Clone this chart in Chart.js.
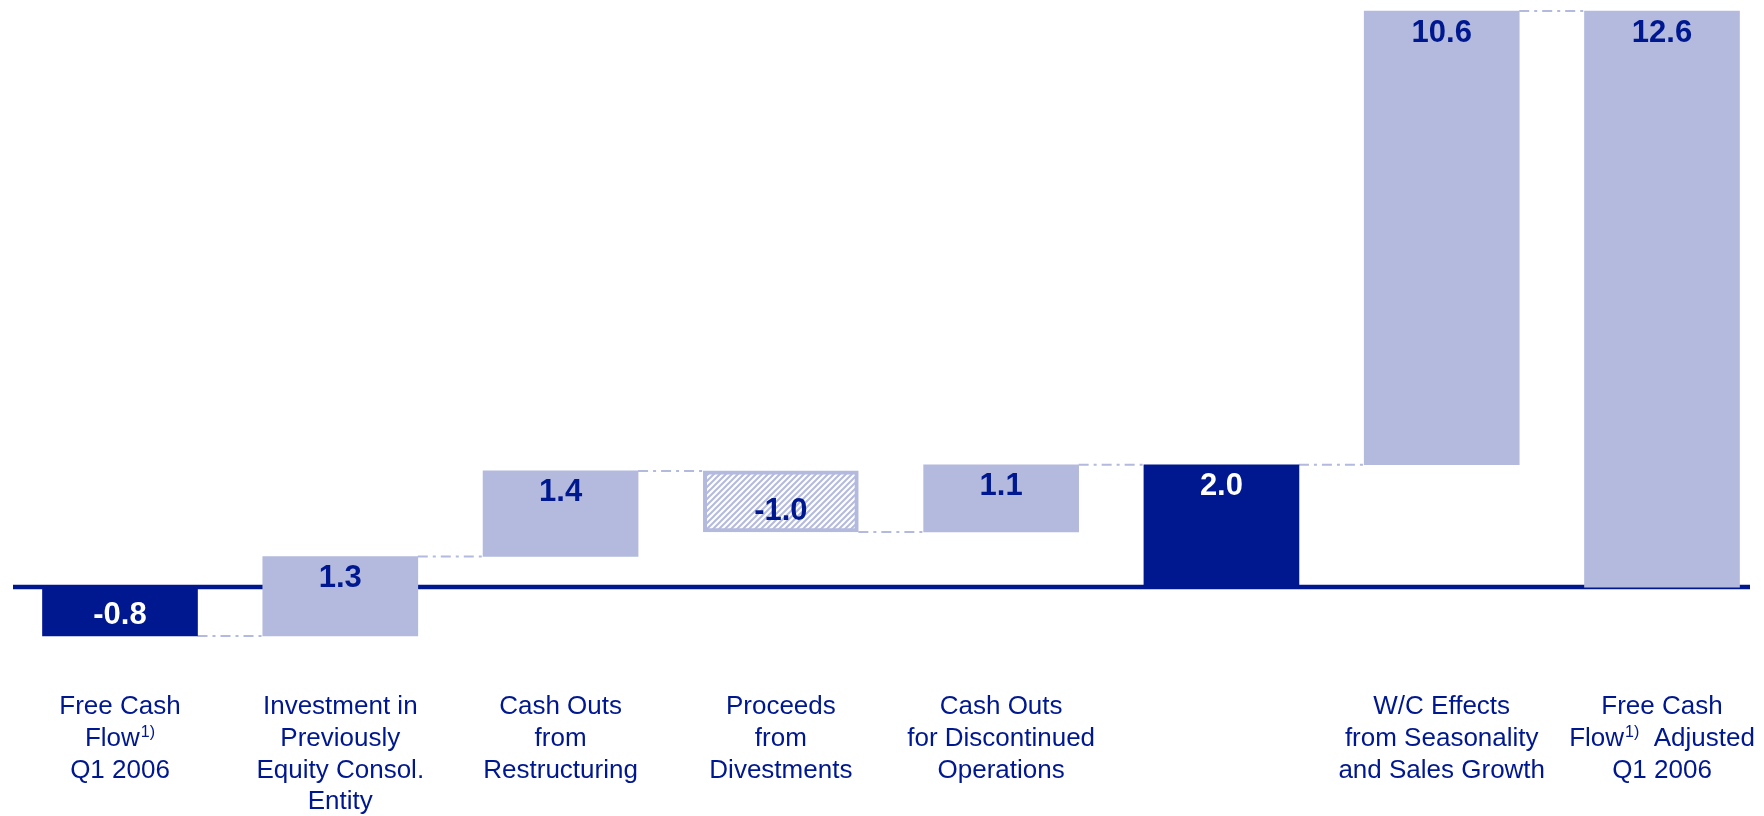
<!DOCTYPE html>
<html>
<head>
<meta charset="utf-8">
<script src="https://cdn.jsdelivr.net/npm/chart.js@4.4.1/dist/chart.umd.min.js"></script>
<style>
  html, body { margin: 0; padding: 0; background: #ffffff; }
  #wrap { width: 1764px; height: 816px; position: relative; }
</style>
</head>
<body>
<div id="wrap"><canvas id="c"></canvas></div>
<script>
// ---- data ----
const categories = [
  ["Free Cash", "Flow¹⁾", "Q1 2006"],
  ["Investment in", "Previously", "Equity Consol.", "Entity"],
  ["Cash Outs", "from", "Restructuring"],
  ["Proceeds", "from", "Divestments"],
  ["Cash Outs", "for Discontinued", "Operations"],
  [""],
  ["W/C Effects", "from Seasonality", "and Sales Growth"],
  ["Free Cash", "Flow¹⁾  Adjusted", "Q1 2006"]
];
const changes = [-0.8, 1.3, 1.4, -1.0, 1.1, 2.0, 10.6, 12.6];
const barKinds = ["total", "step", "step", "step", "step", "total", "step", "total"];
const valueLabels = ["-0.8", "1.3", "1.4", "-1.0", "1.1", "2.0", "10.6", "12.6"];
const axisMin = -0.8;
const axisMax = 12.6;

// floating ranges built from the changes
const ranges = [];
let running = 0;
changes.forEach((v, i) => {
  if (barKinds[i] === "total") {
    ranges.push([0, v]);
    running = v;
  } else {
    const start = Math.round(running * 10) / 10;
    const end = Math.round((running + v) * 10) / 10;
    ranges.push([start, end]);
    running = end;
  }
});

// ---- styles ----
const NAVY = "#00188F";
const LIGHT = "#B3BADD";
function hatchPattern() {
  const s = 6;
  const c = document.createElement("canvas");
  c.width = s; c.height = s;
  const g = c.getContext("2d");
  g.fillStyle = "#ffffff";
  g.fillRect(0, 0, s, s);
  g.strokeStyle = LIGHT;
  g.lineWidth = 2;
  g.beginPath();
  g.moveTo(0, s); g.lineTo(s, 0);
  g.moveTo(-s / 2, s / 2); g.lineTo(s / 2, -s / 2);
  g.moveTo(s / 2, s * 1.5); g.lineTo(s * 1.5, s / 2);
  g.stroke();
  return g.createPattern(c, "repeat");
}
const HATCH = hatchPattern();
const fills = [NAVY, LIGHT, LIGHT, HATCH, LIGHT, NAVY, LIGHT, LIGHT];
const borderWidths = [0, 0, 0, 4, 0, 0, 0, 0];
const textColors = ["#ffffff", NAVY, NAVY, NAVY, NAVY, "#ffffff", NAVY, NAVY];

// ---- a linear scale whose upper part (above a break value) is compressed, as in the original slide ----
class BrokenLinearScale extends Chart.LinearScale {
  _t(v) {
    const b = this.options.breakAt, k = this.options.compress;
    return v <= b ? v : b + (v - b) * k;
  }
  _ti(t) {
    const b = this.options.breakAt, k = this.options.compress;
    return t <= b ? t : b + (t - b) / k;
  }
  getPixelForValue(value) {
    if (value === null || value === undefined) return NaN;
    const lo = this._t(this.min), hi = this._t(this.max);
    return this.getPixelForDecimal((this._t(value) - lo) / (hi - lo));
  }
  getValueForPixel(pixel) {
    const lo = this._t(this.min), hi = this._t(this.max);
    return this._ti(lo + this.getDecimalForPixel(pixel) * (hi - lo));
  }
}
BrokenLinearScale.id = "brokenLinear";
BrokenLinearScale.defaults = Chart.LinearScale.defaults;
Chart.register(BrokenLinearScale);

// ---- plugin: baseline, connectors, value labels, category labels ----
const decor = {
  id: "decor",
  beforeDatasetsDraw(chart) {
    const ctx = chart.ctx;
    const y0 = chart.scales.y.getPixelForValue(0);
    const meta = chart.getDatasetMeta(0);
    ctx.save();
    // connectors
    ctx.strokeStyle = LIGHT;
    ctx.lineWidth = 2;
    ctx.setLineDash([10, 5, 3, 5]);
    for (let i = 0; i < meta.data.length - 1; i++) {
      const a = meta.data[i], b = meta.data[i + 1];
      const level = ranges[i][1];
      const y = chart.scales.y.getPixelForValue(level);
      ctx.beginPath();
      ctx.moveTo(a.x + a.width / 2, y);
      ctx.lineTo(b.x - b.width / 2, y);
      ctx.stroke();
    }
    ctx.setLineDash([]);
    // baseline
    ctx.strokeStyle = NAVY;
    ctx.lineWidth = 4.5;
    ctx.beginPath();
    ctx.moveTo(13, y0);
    ctx.lineTo(1750, y0);
    ctx.stroke();
    ctx.restore();
  },
  afterDatasetsDraw(chart) {
    const ctx = chart.ctx;
    const meta = chart.getDatasetMeta(0);
    const ys = chart.scales.y;
    ctx.save();
    ctx.font = "bold 31px 'Liberation Sans', Arial, sans-serif";
    ctx.textAlign = "center";
    ctx.textBaseline = "middle";
    meta.data.forEach((bar, i) => {
      const startPx = ys.getPixelForValue(ranges[i][0]);
      const endPx = ys.getPixelForValue(ranges[i][1]);
      const y = endPx < startPx ? endPx + 22 : endPx - 21;
      ctx.fillStyle = textColors[i];
      ctx.fillText(valueLabels[i], bar.x, y);
    });
    ctx.restore();
  },
  afterDraw(chart) {
    const ctx = chart.ctx;
    const xs = chart.scales.x;
    const top = chart.chartArea.bottom + 71;
    const lh = 31.7;
    const mainFont = "26px 'Liberation Sans', Arial, sans-serif";
    const supFont = "16px 'Liberation Sans', Arial, sans-serif";
    ctx.save();
    ctx.fillStyle = NAVY;
    ctx.textBaseline = "middle";
    ctx.textAlign = "left";
    categories.forEach((lines, i) => {
      const cx = xs.getPixelForValue(i);
      lines.forEach((line, j) => {
        const y = top + j * lh;
        const k = line.indexOf("¹⁾");
        if (k < 0) {
          ctx.font = mainFont;
          const w = ctx.measureText(line).width;
          ctx.fillText(line, cx - w / 2, y);
        } else {
          const before = line.slice(0, k), after = line.slice(k + 2);
          ctx.font = mainFont;
          const wb = ctx.measureText(before).width;
          const wa = ctx.measureText(after).width;
          ctx.font = supFont;
          const ws = ctx.measureText("1)").width + 1;
          let x = cx - (wb + ws + wa) / 2;
          ctx.font = mainFont;
          ctx.fillText(before, x, y);
          x += wb;
          ctx.font = supFont;
          ctx.fillText("1)", x + 1, y - 6);
          x += ws;
          ctx.font = mainFont;
          ctx.fillText(after, x, y);
        }
      });
    });
    ctx.restore();
  }
};

new Chart(document.getElementById("c"), {
  type: "bar",
  data: {
    labels: categories,
    datasets: [{
      data: ranges,
      backgroundColor: fills,
      borderColor: LIGHT,
      borderWidth: borderWidths,
      borderSkipped: false,
      barThickness: 155,
      clip: false
    }]
  },
  options: {
    responsive: true,
    maintainAspectRatio: false,
    animation: false,
    layout: { padding: { left: 120, right: 102, top: 11, bottom: 180 } },
    plugins: { legend: { display: false }, tooltip: { enabled: false } },
    scales: {
      x: { type: "category", display: false, offset: false, grid: { display: false, offset: false } },
      y: {
        type: "brokenLinear",
        display: false,
        min: axisMin,
        max: axisMax,
        breakAt: 2.0,
        compress: 0.7,
        grid: { display: false }
      }
    }
  },
  plugins: [decor]
});
</script>
</body>
</html>
